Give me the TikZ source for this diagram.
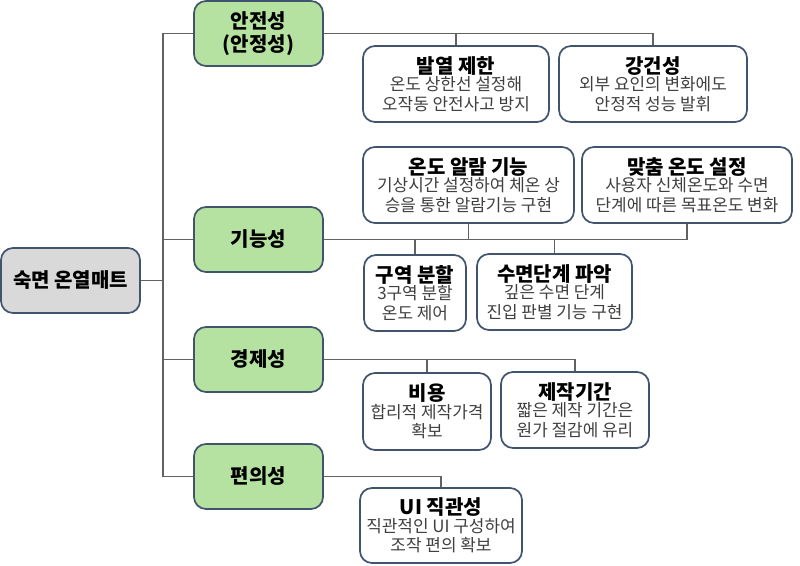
\documentclass[tikz,border=0pt]{standalone}
\usepackage{fontspec}
\setmainfont{Noto Sans CJK KR}
\definecolor{bord}{HTML}{41546E}
\definecolor{grn}{HTML}{B5E2A1}
\definecolor{rootg}{HTML}{D9D9D9}
\definecolor{lnc}{HTML}{626262}
\definecolor{bodyc}{HTML}{404040}
\newcommand\itemhead[1]{{\bfseries\fontsize{15}{15}\selectfont\color{black}#1}\\[-1.5pt]}
\begin{document}
\begin{tikzpicture}[x=0.75pt,y=-0.75pt,
 box/.style={draw=bord, line width=1.3pt, rounded corners=9pt, inner sep=0pt, align=center},
 sz/.style 2 args={minimum width=#1*0.75pt, minimum height=#2*0.75pt},
 cat/.style={box, fill=grn, sz={129}{65}, font=\bfseries\fontsize{15}{17}\selectfont},
 rootbox/.style={box, fill=rootg, font=\bfseries\fontsize{15}{17}\selectfont},
 item/.style={box, fill=white, font=\fontsize{12.7}{14.5}\selectfont, text=bodyc},
 conn/.style={draw=lnc, line width=0.8pt}]
\useasboundingbox (0,0) rectangle (800,565);

% root and categories
\node[rootbox, sz={139}{65}] (root) at (70.5,280.5) {숙면 온열매트};
\node[cat] (safe) at (258.5,33.5) {안전성\\(안정성)};
\node[cat] (func) at (258.5,239.5) {기능성};
\node[cat] (econ) at (258.5,359.5) {경제성};
\node[cat] (conv) at (258.5,476.5) {편의성};
\coordinate (tk) at (163,0);

% items
\node[item, sz={186}{76}] (heat) at (456,84) {\itemhead{발열 제한}온도 상한선 설정해\\오작동 안전사고 방지};
\node[item, sz={188}{76}] (robust) at (653,84) {\itemhead{강건성}외부 요인의 변화에도\\안정적 성능 발휘};
\node[item, sz={211}{76}] (alarm) at (468.5,185) {\itemhead{온도 알람 기능}기상시간 설정하여 체온 상\\승을 통한 알람기능 구현};
\node[item, sz={210}{76}] (custom) at (687,185) {\itemhead{맞춤 온도 설정}사용자 신체온도와 수면\\단계에 따른 목표온도 변화};
\node[item, sz={102}{76}] (zone) at (415,293) {\itemhead{구역 분할}3구역 분할\\온도 제어};
\node[item, sz={155}{76}] (stage) at (554.5,292) {\itemhead{수면단계 파악}깊은 수면 단계\\진입 판별 기능 구현};
\node[item, sz={128}{77}] (cost) at (427,411.5) {\itemhead{비용}합리적 제작가격\\확보};
\node[item, sz={148}{76}] (period) at (575,410) {\itemhead{제작기간}짧은 제작 기간은\\원가 절감에 유리};
\node[item, sz={162}{75}] (ui) at (441,525.5) {\itemhead{UI 직관성}직관적인 UI 구성하여\\조작 편의 확보};

% trunk
\draw[conn] (root.east) -- (root.east -| tk);
\draw[conn] (safe.west) -- (safe.west -| tk) -- (conv.west -| tk) -- (conv.west);
\draw[conn] (func.west) -- (func.west -| tk);
\draw[conn] (econ.west) -- (econ.west -| tk);

% branches
\draw[conn] (safe.east) -| (heat.north);
\draw[conn] (safe.east) -| (robust.north);
\draw[conn] (func.east) -| (alarm.south);
\draw[conn] (func.east) -| (custom.south);
\draw[conn] (func.east) -| (zone.north);
\draw[conn] (func.east) -| (stage.north);
\draw[conn] (econ.east) -| (cost.north);
\draw[conn] (econ.east) -| (period.north);
\draw[conn] (conv.east) -| (ui.north);
\end{tikzpicture}
\end{document}
